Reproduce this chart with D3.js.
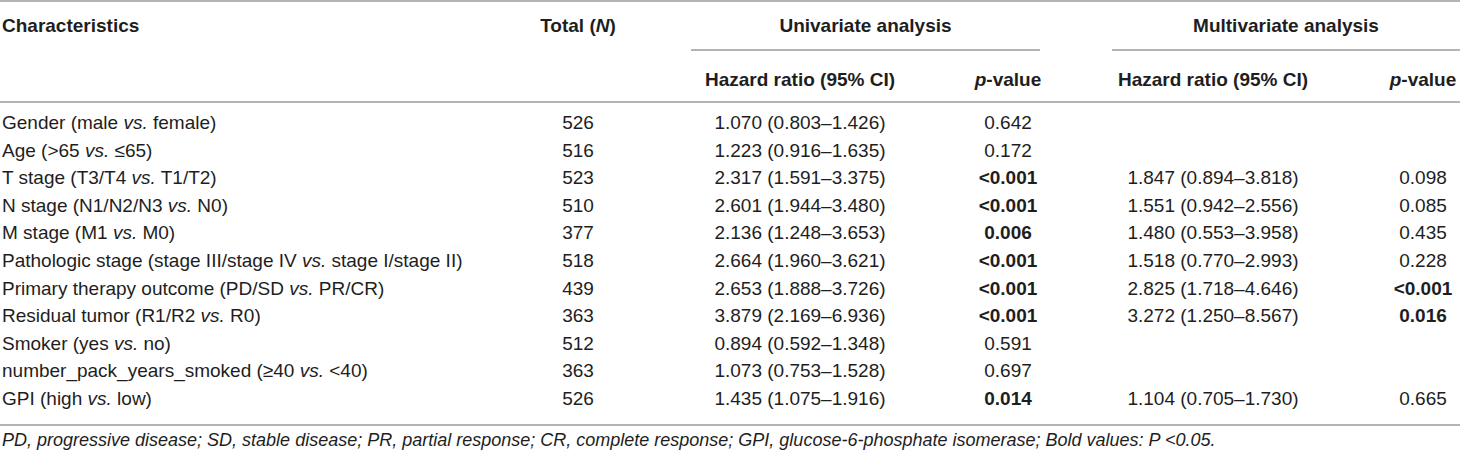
<!DOCTYPE html>
<html>
<head>
<meta charset="utf-8">
<title>Cox regression table</title>
<script src="https://cdn.jsdelivr.net/npm/d3@7"></script>
<style>
  body { margin: 0; background: #fff; }
  svg text { font-family: "Liberation Sans", Arial, sans-serif; font-size: 19px; fill: #1e1e1e; white-space: pre; }
  .rule { stroke: #9a9a9a; stroke-width: 1.3; }
</style>
</head>
<body>
<div id="chart"></div>
<script>
var characteristics = [
  "Gender (male vs. female)",
  "Age (>65 vs. ≤65)",
  "T stage (T3/T4 vs. T1/T2)",
  "N stage (N1/N2/N3 vs. N0)",
  "M stage (M1 vs. M0)",
  "Pathologic stage (stage III/stage IV vs. stage I/stage II)",
  "Primary therapy outcome (PD/SD vs. PR/CR)",
  "Residual tumor (R1/R2 vs. R0)",
  "Smoker (yes vs. no)",
  "number_pack_years_smoked (≥40 vs. <40)",
  "GPI (high vs. low)"
];
var totals    = [526, 516, 523, 510, 377, 518, 439, 363, 512, 363, 526];
var uniHR     = [1.070, 1.223, 2.317, 2.601, 2.136, 2.664, 2.653, 3.879, 0.894, 1.073, 1.435];
var uniLow    = [0.803, 0.916, 1.591, 1.944, 1.248, 1.960, 1.888, 2.169, 0.592, 0.753, 1.075];
var uniHigh   = [1.426, 1.635, 3.375, 3.480, 3.653, 3.621, 3.726, 6.936, 1.348, 1.528, 1.916];
var uniP      = ["0.642", "0.172", "<0.001", "<0.001", "0.006", "<0.001", "<0.001", "<0.001", "0.591", "0.697", "0.014"];
var multiHR   = [null, null, 1.847, 1.551, 1.480, 1.518, 2.825, 3.272, null, null, 1.104];
var multiLow  = [null, null, 0.894, 0.942, 0.553, 0.770, 1.718, 1.250, null, null, 0.705];
var multiHigh = [null, null, 3.818, 2.556, 3.958, 2.993, 4.646, 8.567, null, null, 1.730];
var multiP    = [null, null, "0.098", "0.085", "0.435", "0.228", "<0.001", "0.016", null, null, "0.665"];
var footnote  = "PD, progressive disease; SD, stable disease; PR, partial response; CR, complete response; GPI, glucose-6-phosphate isomerase; Bold values: P <0.05.";

var width = 1460, height = 455;
var f3 = d3.format(".3f");

// column centres
var col = { label: 2, total: 578, uniHR: 800, uniP: 1008, multiHR: 1213, multiP: 1423 };
var y = d3.scalePoint().domain(d3.range(characteristics.length)).range([129, 405]);

var svg = d3.select("#chart").append("svg")
  .attr("width", width)
  .attr("height", height);

function rule(x1, x2, yy) {
  svg.append("line").attr("class", "rule")
    .attr("x1", x1).attr("x2", x2).attr("y1", yy).attr("y2", yy);
}

function isBold(p) {
  if (p == null) return false;
  if (p.charAt(0) == "<") return true;
  return +p < 0.05;
}

// header
rule(0, width, 1);
svg.append("text").attr("x", col.label).attr("y", 32).attr("font-weight", "bold").text("Characteristics");
var tot = svg.append("text").attr("x", col.total).attr("y", 32).attr("font-weight", "bold").attr("text-anchor", "middle");
tot.append("tspan").text("Total (");
tot.append("tspan").attr("font-style", "italic").text("N");
tot.append("tspan").text(")");

svg.append("text").attr("x", (691 + 1040) / 2).attr("y", 32).attr("font-weight", "bold").attr("text-anchor", "middle").text("Univariate analysis");
svg.append("text").attr("x", (1112 + 1460) / 2).attr("y", 32).attr("font-weight", "bold").attr("text-anchor", "middle").text("Multivariate analysis");
rule(691, 1040, 50);
rule(1112, 1460, 50);

[["uniHR", "uniP"], ["multiHR", "multiP"]].forEach(function(pair) {
  svg.append("text").attr("x", col[pair[0]]).attr("y", 86).attr("font-weight", "bold").attr("text-anchor", "middle").text("Hazard ratio (95% CI)");
  var pv = svg.append("text").attr("x", col[pair[1]]).attr("y", 86).attr("font-weight", "bold").attr("text-anchor", "middle");
  pv.append("tspan").attr("font-style", "italic").text("p");
  pv.append("tspan").text("-value");
});
rule(0, width, 102);

// body rows
var rows = svg.selectAll("g.row")
  .data(d3.range(characteristics.length))
  .enter().append("g")
  .attr("class", "row")
  .attr("transform", function(i) { return "translate(0," + y(i) + ")"; });

rows.append("text")
  .attr("x", col.label)
  .each(function(i) {
    var parts = characteristics[i].split(" vs. ");
    var t = d3.select(this);
    t.append("tspan").text(parts[0] + " ");
    t.append("tspan").attr("font-style", "italic").text("vs.");
    t.append("tspan").text(" " + parts[1]);
  });

rows.append("text").attr("x", col.total).attr("text-anchor", "middle")
  .text(function(i) { return totals[i]; });

rows.append("text").attr("x", col.uniHR).attr("text-anchor", "middle")
  .text(function(i) { return f3(uniHR[i]) + " (" + f3(uniLow[i]) + "–" + f3(uniHigh[i]) + ")"; });

rows.append("text").attr("x", col.uniP).attr("text-anchor", "middle")
  .attr("font-weight", function(i) { return isBold(uniP[i]) ? "bold" : null; })
  .text(function(i) { return uniP[i]; });

rows.filter(function(i) { return multiHR[i] != null; })
  .append("text").attr("x", col.multiHR).attr("text-anchor", "middle")
  .text(function(i) { return f3(multiHR[i]) + " (" + f3(multiLow[i]) + "–" + f3(multiHigh[i]) + ")"; });

rows.filter(function(i) { return multiP[i] != null; })
  .append("text").attr("x", col.multiP).attr("text-anchor", "middle")
  .attr("font-weight", function(i) { return isBold(multiP[i]) ? "bold" : null; })
  .text(function(i) { return multiP[i]; });

// footer
rule(0, width, 425);
svg.append("text").attr("x", col.label).attr("y", 446)
  .attr("font-style", "italic").style("font-size", "18px")
  .text(footnote);
</script>
</body>
</html>
